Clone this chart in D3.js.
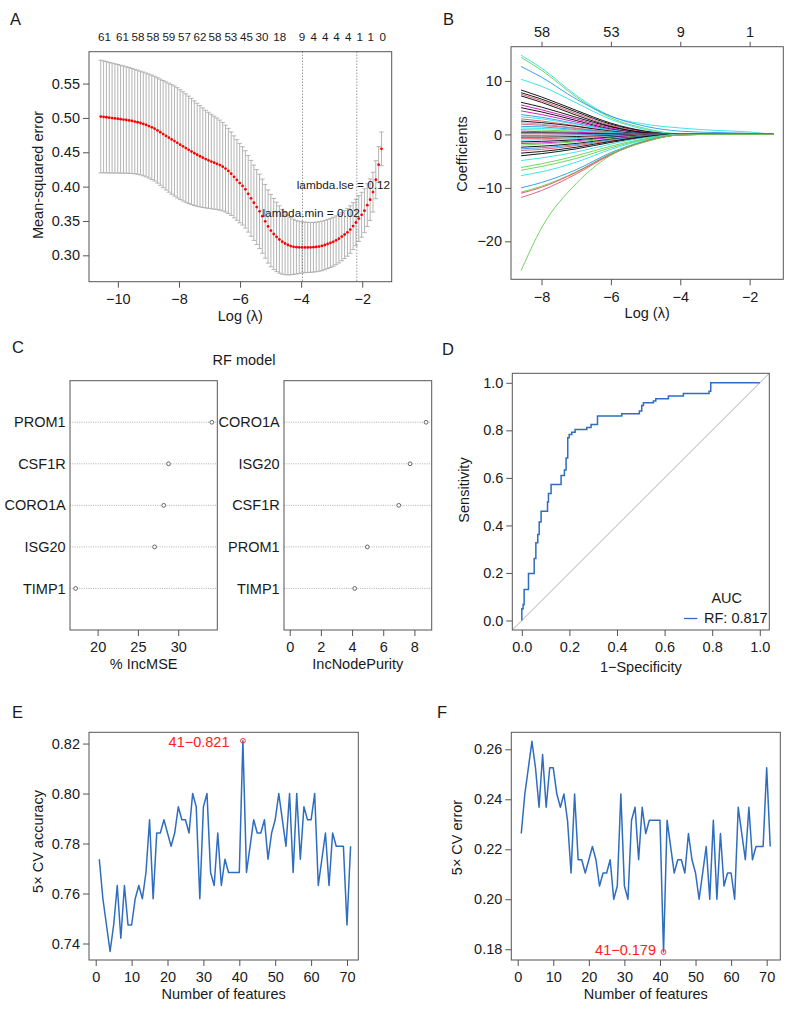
<!DOCTYPE html>
<html lang="en">
<head>
<meta charset="utf-8" />
<title>LASSO / random forest feature selection (D3.js)</title>
<script src="https://d3js.org/d3.v7.min.js"></script>
<style>
  body { margin: 0; background: #ffffff; }
  svg  { display: block; font-family: "Liberation Sans", Arial, Helvetica, sans-serif; }
  text { fill: #1a1a1a; }
  .frame { fill: none; stroke: #555; stroke-width: 1; }
</style>
</head>
<body>
<svg id="fig"></svg>
<script>
/* ---------------- data ---------------- */

// A: cross-validated MSE along the lambda path (100 lambdas, log scale)
const cvLogLambdaRange = [-10.56, -1.37];
const cvMean = [
  0.502, 0.5015, 0.501, 0.5003, 0.4998, 0.4993, 0.4988, 0.4982, 0.4976, 0.497,
  0.4963, 0.4956, 0.4947, 0.4937, 0.4926, 0.4913, 0.4898, 0.4882, 0.4863, 0.4843,
  0.4818, 0.4792, 0.4765, 0.4738, 0.4712, 0.4687, 0.4663, 0.4637, 0.4611, 0.4586,
  0.4561, 0.4536, 0.4511, 0.4487, 0.4464, 0.4442, 0.4421, 0.4401, 0.4383, 0.4365,
  0.4349, 0.4332, 0.4313, 0.429, 0.4262, 0.4228, 0.4188, 0.4142, 0.4097, 0.4052,
  0.401, 0.396, 0.3895, 0.383, 0.3765, 0.3703, 0.364, 0.357, 0.3495, 0.342,
  0.336, 0.331, 0.3268, 0.323, 0.3198, 0.3172, 0.315, 0.3134, 0.3124, 0.3118,
  0.3116, 0.3115, 0.3115, 0.3115, 0.3116, 0.3118, 0.3122, 0.3128, 0.3138, 0.315,
  0.3165, 0.318, 0.3197, 0.3218, 0.3243, 0.3273, 0.3303, 0.3335, 0.3375, 0.3425,
  0.3478, 0.3535, 0.359, 0.365, 0.373, 0.381, 0.392, 0.41, 0.432, 0.455
];
const cvSe = [
  0.082, 0.0815, 0.081, 0.0805, 0.08, 0.0795, 0.079, 0.0785, 0.078, 0.0775,
  0.077, 0.0765, 0.076, 0.0757, 0.0755, 0.0755, 0.0755, 0.0757, 0.076, 0.0762,
  0.0767, 0.0773, 0.078, 0.0787, 0.0793, 0.0798, 0.0802, 0.0803, 0.08, 0.0795,
  0.0789, 0.0782, 0.0773, 0.0762, 0.075, 0.0737, 0.0724, 0.0711, 0.0699, 0.0688,
  0.0677, 0.0666, 0.0655, 0.0644, 0.0632, 0.062, 0.0608, 0.0597, 0.0587, 0.0578,
  0.057, 0.0563, 0.0557, 0.0552, 0.0548, 0.0545, 0.0542, 0.054, 0.0537, 0.0533,
  0.0527, 0.0518, 0.0505, 0.049, 0.0472, 0.0453, 0.0434, 0.0417, 0.0402, 0.039,
  0.038, 0.0373, 0.0368, 0.0365, 0.0363, 0.0362, 0.0361, 0.036, 0.036, 0.0359,
  0.0358, 0.0357, 0.0356, 0.0355, 0.0354, 0.0352, 0.035, 0.0348, 0.0345, 0.0342,
  0.0338, 0.0333, 0.0327, 0.032, 0.0312, 0.0302, 0.029, 0.0277, 0.0262, 0.0245
];
const cvTopLabels = ["61","61","58","58","59","57","62","58","53","45","30","18","9","4","4","4","4","1","1","0"];
const cvTopAt = [-10.44,-9.85,-9.34,-8.85,-8.33,-7.82,-7.31,-6.82,-6.30,-5.79,-5.28,-4.70,-3.97,-3.59,-3.21,-2.84,-2.46,-2.08,-1.72,-1.33];
const cvLambdaLines = [-3.955, -2.178];
const cvLambdaText = ["lambda.min = 0.02", "lambda.lse = 0.12"];

// B: coefficient paths, values read at these log(lambda) knots
const coefKnots = [-8.59, -8, -7, -6, -5, -4, -3, -2, -1.32];
const coefPaths = [
  [14.8, 12.4, 7.3, 3.4, 1.9, 1.2, 0.75, 0.45, 0],
  [14.4, 12.0, 7.0, 3.1, 1.1, 0.1, 0, 0, 0],
  [12.7, 10.7, 6.6, 3.4, 1.5, 0.6, 0.35, 0.2, 0],
  [10.3, 9.0, 5.9, 2.8, 0.9, 0, 0, 0, 0],
  [8.3, 7.0, 4.5, 2.1, 0.6, 0, 0, 0, 0],
  [7.8, 6.6, 4.2, 1.9, 0.5, 0, 0, 0, 0],
  [7.5, 6.3, 3.9, 1.7, 0.4, 0, 0, 0, 0],
  [7.2, 6.0, 3.6, 1.5, 0.3, 0, 0, 0, 0],
  [6.0, 5.1, 3.2, 1.4, 0.3, 0, 0, 0, 0],
  [5.5, 4.6, 2.9, 1.2, 0.2, 0, 0, 0, 0],
  [5.0, 4.2, 2.6, 1.0, 0.2, 0, 0, 0, 0],
  [4.4, 3.7, 2.3, 0.9, 0.1, 0, 0, 0, 0],
  [3.7, 3.2, 2.0, 0.8, 0.1, 0, 0, 0, 0],
  [3.3, 2.9, 1.9, 0.8, 0.1, 0, 0, 0, 0],
  [2.9, 2.5, 1.6, 0.6, 0.05, 0, 0, 0, 0],
  [2.5, 2.2, 1.5, 0.6, 0.1, 0, 0, 0, 0],
  [2.2, 1.9, 1.2, 0.5, 0, 0, 0, 0, 0],
  [1.9, 1.7, 1.1, 0.4, 0, 0, 0, 0, 0],
  [1.5, 1.4, 0.9, 0.4, 0, 0, 0, 0, 0],
  [1.2, 1.1, 0.8, 0.3, 0, 0, 0, 0, 0],
  [0.9, 0.8, 0.6, 0.2, 0, 0, 0, 0, 0],
  [0.6, 0.5, 0.4, 0.15, 0, 0, 0, 0, 0],
  [0.3, 0.3, 0.2, 0.1, 0, 0, 0, 0, 0],
  [0.1, 0.1, 0.05, 0, 0, 0, 0, 0, 0],
  [-0.2, -0.2, -0.1, 0, 0, 0, 0, 0, 0],
  [-0.5, -0.5, -0.4, -0.2, 0, 0, 0, 0, 0],
  [-0.8, -0.8, -0.6, -0.3, 0, 0, 0, 0, 0],
  [-1.1, -1.0, -0.8, -0.4, -0.1, 0, 0, 0, 0],
  [-1.4, -1.3, -1.0, -0.5, -0.1, 0, 0, 0, 0],
  [-1.7, -1.6, -1.2, -0.6, -0.15, 0, 0, 0, 0],
  [-2.0, -1.8, -1.4, -0.8, -0.2, 0, 0, 0, 0],
  [-2.4, -2.2, -1.7, -0.9, -0.3, 0, 0, 0, 0],
  [-2.7, -2.5, -1.9, -1.0, -0.3, 0, 0, 0, 0],
  [-3.0, -2.8, -2.1, -1.2, -0.4, 0, 0, 0, 0],
  [-3.5, -3.2, -2.4, -1.3, -0.4, 0, 0, 0, 0],
  [-4.0, -3.6, -2.7, -1.5, -0.5, 0, 0, 0, 0],
  [-4.9, -4.4, -3.3, -1.8, -0.6, 0, 0, 0, 0],
  [-6.2, -5.5, -4.0, -2.2, -0.8, 0, 0, 0, 0],
  [-6.7, -6.0, -4.5, -2.5, -0.9, 0, 0, 0, 0],
  [-7.7, -7.0, -5.2, -2.8, -1.0, 0, 0, 0, 0],
  [-10.0, -9.0, -6.6, -3.4, -1.2, -0.1, 0, 0, 0],
  [-10.8, -9.7, -7.0, -3.6, -1.2, -0.1, 0, 0, 0],
  [-11.0, -9.9, -7.1, -3.7, -1.3, -0.1, 0, 0, 0],
  [-11.8, -10.5, -7.4, -3.8, -1.3, -0.1, 0, 0, 0],
  [-25.5, -17.5, -9.2, -3.9, -1.4, -0.1, 0, 0, 0]
];
const coefColors = ["#28E2E5","#61D04F","#2297E6","#28E2E5","#000000","#000000","#DF536B","#000000","#000000","#CD0BBC",
  "#000000","#CD0BBC","#2297E6","#28E2E5","#DF536B","#000000","#9E9E9E","#DF536B","#2297E6","#28E2E5",
  "#61D04F","#CD0BBC","#000000","#DF536B","#2297E6","#000000","#DF536B","#28E2E5","#000000","#CD0BBC",
  "#61D04F","#000000","#2297E6","#DF536B","#000000","#000000","#28E2E5","#61D04F","#61D04F","#28E2E5",
  "#2297E6","#61D04F","#DF536B","#DF536B","#61D04F"];
const coefTopTicks = [-8, -6, -4, -2];
const coefTopLabels = ["58", "53", "9", "1"];

// C: random forest variable importance
const rfGenesMSE = ["PROM1", "CSF1R", "CORO1A", "ISG20", "TIMP1"];
const rfIncMSE   = [34.17, 28.8, 28.2, 27.07, 17.27];
const rfGenesNP  = ["CORO1A", "ISG20", "CSF1R", "PROM1", "TIMP1"];
const rfIncNP    = [8.75, 7.72, 7.0, 4.98, 4.17];

// D: ROC curve vertices
const rocFpr = [0, 0, 0.0056, 0.0056, 0.0098, 0.0098, 0.028, 0.028, 0.052, 0.052,
  0.059, 0.059, 0.067, 0.067, 0.073, 0.073, 0.081, 0.081, 0.108, 0.108,
  0.112, 0.112, 0.123, 0.123, 0.165, 0.165, 0.179, 0.179, 0.186, 0.186,
  0.193, 0.193, 0.199, 0.199, 0.21, 0.21, 0.224, 0.224, 0.273, 0.273,
  0.291, 0.291, 0.318, 0.318, 0.42, 0.42, 0.494, 0.494, 0.504, 0.504,
  0.511, 0.511, 0.553, 0.553, 0.563, 0.563, 0.616, 0.616, 0.679, 0.679,
  0.787, 0.787, 0.794, 0.794, 1];
const rocTpr = [0, 0.049, 0.049, 0.067, 0.067, 0.13, 0.13, 0.198, 0.198, 0.261,
  0.261, 0.327, 0.327, 0.362, 0.362, 0.414, 0.414, 0.46, 0.46, 0.499,
  0.499, 0.534, 0.534, 0.572, 0.572, 0.61, 0.61, 0.633, 0.633, 0.684,
  0.684, 0.769, 0.769, 0.783, 0.783, 0.792, 0.792, 0.804, 0.804, 0.812,
  0.812, 0.825, 0.825, 0.86, 0.86, 0.87, 0.87, 0.881, 0.881, 0.905,
  0.905, 0.916, 0.916, 0.923, 0.923, 0.933, 0.933, 0.944, 0.944, 0.955,
  0.955, 0.965, 0.965, 1, 1];
const rocAuc = "RF: 0.817";

// E / F: 5-fold CV accuracy and error vs number of features (1..71)
const cvAccuracy = [0.7737,0.7579,0.7474,0.7368,0.7474,0.7632,0.7421,0.7632,0.7474,0.7474,
  0.7579,0.7632,0.7579,0.7684,0.7895,0.7579,0.7842,0.7842,0.7895,0.7842,
  0.7789,0.7842,0.7947,0.7895,0.7895,0.7842,0.8,0.7947,0.7579,0.7947,
  0.8,0.7684,0.7632,0.7842,0.7632,0.7737,0.7684,0.7684,0.7684,0.7684,
  0.8211,0.7684,0.7789,0.7895,0.7842,0.7842,0.7895,0.7737,0.7842,0.7895,
  0.8,0.7895,0.7789,0.8,0.7684,0.8,0.7737,0.7947,0.7895,0.7895,
  0.8,0.7632,0.7737,0.7842,0.7632,0.7842,0.7789,0.7789,0.7789,0.7474,
  0.7789];
const cvError = [0.2263,0.2421,0.2526,0.2632,0.2526,0.2368,0.2579,0.2368,0.2526,0.2526,
  0.2421,0.2368,0.2421,0.2316,0.2105,0.2421,0.2158,0.2158,0.2105,0.2158,
  0.2211,0.2158,0.2053,0.2105,0.2105,0.2158,0.2,0.2053,0.2421,0.2053,
  0.2,0.2316,0.2368,0.2158,0.2368,0.2263,0.2316,0.2316,0.2316,0.2316,
  0.1789,0.2316,0.2211,0.2105,0.2158,0.2158,0.2105,0.2263,0.2158,0.2105,
  0.2,0.2105,0.2211,0.2,0.2316,0.2,0.2263,0.2053,0.2105,0.2105,
  0.2,0.2368,0.2263,0.2158,0.2368,0.2158,0.2211,0.2211,0.2211,0.2526,
  0.2211];

/* ---------------- helpers ---------------- */
const svg = d3.select("#fig").attr("width", 799).attr("height", 1009);
const FS = 14.5, INK = "#1a1a1a", BLUE = "#2E6DBF";

function frame(x0, y0, x1, y1) {
  svg.append("rect").attr("class", "frame")
    .attr("x", x0).attr("y", y0).attr("width", x1 - x0).attr("height", y1 - y0);
}
function axis(gen, tx, ty) {
  const g = svg.append("g").attr("transform", `translate(${tx},${ty})`).call(gen);
  g.select(".domain").remove();
  g.selectAll(".tick line").attr("stroke", "#555");
  g.selectAll(".tick text").attr("font-size", FS)
    .attr("font-family", '"Liberation Sans", Arial, Helvetica, sans-serif').attr("fill", INK);
  return g;
}
function text(x, y, s, opt = {}) {
  const t = svg.append("text").attr("x", x).attr("y", y).text(s)
    .attr("font-size", opt.size || FS).attr("text-anchor", opt.anchor || "start");
  if (opt.fill) t.style("fill", opt.fill);
  if (opt.rotate) t.attr("transform", `rotate(-90,${x},${y})`);
  return t;
}
const bottom = (s, v, f) => d3.axisBottom(s).tickValues(v).tickFormat(f).tickSize(6).tickPadding(6);
const left   = (s, v, f) => d3.axisLeft(s).tickValues(v).tickFormat(f).tickSize(6).tickPadding(3);

/* ---------------- A ---------------- */
{
  const X0 = 89, X1 = 391.7, Y0 = 51.7, Y1 = 281.7;
  const x = d3.scaleLinear().domain([-10.945, -1.035]).range([X0, X1]);
  const y = d3.scaleLinear().domain([0.2616, 0.5964]).range([Y1, Y0]);
  const lam = d3.scaleLinear().domain([0, cvMean.length - 1]).range(cvLogLambdaRange);
  const pts = cvMean.map((m, i) => ({ l: lam(i), m, lo: m - cvSe[i], hi: m + cvSe[i] }));

  const bars = svg.append("g").attr("stroke", "#ababab").attr("stroke-width", 0.9).attr("fill", "none");
  bars.selectAll("path").data(pts).join("path")
    .attr("d", d => {
      const px = x(d.l), a = y(d.hi), b = y(d.lo), c = 2.2;
      return `M${px},${a}V${b}M${px - c},${a}H${px + c}M${px - c},${b}H${px + c}`;
    });
  svg.append("g").selectAll("circle").data(pts).join("circle")
    .attr("cx", d => x(d.l)).attr("cy", d => y(d.m)).attr("r", 1.4).attr("fill", "#ff0000");

  svg.append("g").selectAll("line").data(cvLambdaLines).join("line")
    .attr("x1", d => x(d)).attr("x2", d => x(d)).attr("y1", Y0).attr("y2", Y1)
    .attr("stroke", "#444").attr("stroke-width", 0.8).attr("stroke-dasharray", "1,2");
  text(x(cvLambdaLines[0]) - 40, 216.7, cvLambdaText[0], { size: 11.8 });
  text(X1 - 1.5, 189.3, cvLambdaText[1], { size: 11.8, anchor: "end" });

  frame(X0, Y0, X1, Y1);
  axis(bottom(x, [-10, -8, -6, -4, -2], d3.format("d")), 0, Y1);
  axis(left(y, [0.30, 0.35, 0.40, 0.45, 0.50, 0.55], d3.format(".2f")), X0, 0);
  svg.append("g").selectAll("text").data(cvTopLabels).join("text")
    .attr("x", (d, i) => x(cvTopAt[i])).attr("y", 40.5).attr("text-anchor", "middle")
    .attr("font-size", 11.6).text(d => d);
  text((X0 + X1) / 2, 320.5, "Log (λ)", { anchor: "middle" });
  text(42.5, 175, "Mean-squared error", { anchor: "middle", rotate: true });
  text(10, 25, "A", { size: 16.5 });
}

/* ---------------- B ---------------- */
{
  const X0 = 511, X1 = 783.3, Y0 = 46.7, Y1 = 279.3;
  const x = d3.scaleLinear().domain([-8.88, -1.03]).range([X0, X1]);
  const y = d3.scaleLinear().domain([-27.1, 16.4]).range([Y1, Y0]);
  const line = d3.line().x((d, i) => x(coefKnots[i])).y(d => y(d)).curve(d3.curveMonotoneX);
  svg.append("g").attr("fill", "none").attr("stroke-width", 0.9)
    .selectAll("path").data(coefPaths).join("path")
    .attr("stroke", (d, i) => coefColors[i]).attr("d", line);

  frame(X0, Y0, X1, Y1);
  axis(bottom(x, [-8, -6, -4, -2], d3.format("d")), 0, Y1);
  axis(left(y, [-20, -10, 0, 10], d3.format("d")), X0, 0);
  axis(d3.axisTop(x).tickValues(coefTopTicks).tickFormat((d, i) => coefTopLabels[i]).tickSize(5).tickPadding(5), 0, Y0);
  text((X0 + X1) / 2, 318, "Log (λ)", { anchor: "middle" });
  text(466.5, 154, "Coefficients", { anchor: "middle", rotate: true });
  text(443, 25, "B", { size: 16.5 });
}

/* ---------------- C ---------------- */
{
  const Y0 = 380.7, Y1 = 630;
  const y = d3.scaleLinear().domain([0, 6]).range([Y1, Y0]);
  const boxes = [
    { X0: 70, X1: 217.3, dom: [16.57, 34.85], genes: rfGenesMSE, vals: rfIncMSE, ticks: [20, 25, 30], title: "% IncMSE" },
    { X0: 284, X1: 431.7, dom: [-0.366, 9.11], genes: rfGenesNP, vals: rfIncNP, ticks: [0, 2, 4, 6, 8], title: "IncNodePurity" }
  ];
  boxes.forEach(b => {
    const x = d3.scaleLinear().domain(b.dom).range([b.X0, b.X1]);
    const rowY = (d, i) => y(b.genes.length - i);
    svg.append("g").selectAll("line").data(b.vals).join("line")
      .attr("x1", b.X0).attr("x2", b.X1).attr("y1", rowY).attr("y2", rowY)
      .attr("stroke", "#9a9a9a").attr("stroke-width", 0.8).attr("stroke-dasharray", "1,1.3");
    svg.append("g").selectAll("circle").data(b.vals).join("circle")
      .attr("cx", d => x(d)).attr("cy", rowY).attr("r", 1.9)
      .attr("fill", "#fff").attr("stroke", "#444").attr("stroke-width", 0.8);
    svg.append("g").selectAll("text").data(b.genes).join("text")
      .attr("x", b.X0 - 4.3).attr("y", rowY).attr("dy", "0.35em")
      .attr("text-anchor", "end").attr("font-size", FS).text(d => d);
    frame(b.X0, Y0, b.X1, Y1);
    axis(bottom(x, b.ticks, d3.format("d")), 0, Y1);
    text((b.X0 + b.X1) / 2, 669, b.title, { anchor: "middle" });
  });
  text(244, 364.5, "RF model", { anchor: "middle" });
  text(12, 353, "C", { size: 16.5 });
}

/* ---------------- D ---------------- */
{
  const X0 = 512.3, X1 = 769.3, Y0 = 373.3, Y1 = 630;
  const x = d3.scaleLinear().domain([-0.04, 1.04]).range([X0, X1]);
  const y = d3.scaleLinear().domain([-0.04, 1.04]).range([Y1, Y0]);
  svg.append("line").attr("x1", x(-0.04)).attr("y1", y(-0.04)).attr("x2", x(1.04)).attr("y2", y(1.04))
    .attr("stroke", "#9a9a9a").attr("stroke-width", 0.8);
  svg.append("path").datum(rocFpr)
    .attr("fill", "none").attr("stroke", BLUE).attr("stroke-width", 1.5)
    .attr("d", d3.line().x(d => x(d)).y((d, i) => y(rocTpr[i])));
  frame(X0, Y0, X1, Y1);
  const t = [0, 0.2, 0.4, 0.6, 0.8, 1.0];
  axis(bottom(x, t, d3.format(".1f")), 0, Y1);
  axis(left(y, t, d3.format(".1f")), X0, 0);
  text(726.7, 603, "AUC", { anchor: "middle" });
  svg.append("line").attr("x1", 684).attr("x2", 697.3).attr("y1", 618.5).attr("y2", 618.5)
    .attr("stroke", BLUE).attr("stroke-width", 1.3);
  text(704, 623.3, rocAuc);
  text((X0 + X1) / 2, 672, "1−Specificity", { anchor: "middle" });
  text(469, 490, "Sensitivity", { anchor: "middle", rotate: true });
  text(442, 355, "D", { size: 16.5 });
}

/* ---------------- E / F ---------------- */
function cvPanel(o) {
  const x = d3.scaleLinear().domain(o.xdom).range([o.X0, o.X1]);
  const y = d3.scaleLinear().domain(o.ydom).range([o.Y1, o.Y0]);
  svg.append("path").datum(o.vals)
    .attr("fill", "none").attr("stroke", BLUE).attr("stroke-width", 1.5).attr("stroke-linejoin", "round")
    .attr("d", d3.line().x((d, i) => x(i + 1)).y(d => y(d)));
  const bi = o.pick(o.vals);
  svg.append("circle").attr("cx", x(bi + 1)).attr("cy", y(o.vals[bi])).attr("r", 2.4)
    .attr("fill", "none").attr("stroke", "#ff2020").attr("stroke-width", 0.9);
  text(o.labX, o.labY, `${bi + 1}−${o.vals[bi].toFixed(3)}`, { anchor: "end", fill: "#ff2020" });
  frame(o.X0, o.Y0, o.X1, o.Y1);
  axis(bottom(x, d3.range(0, 71, 10), d3.format("d")), 0, o.Y1);
  axis(left(y, o.yt, d3.format(".2f")), o.X0, 0);
  text((o.X0 + o.X1) / 2, o.Y1 + 39, "Number of features", { anchor: "middle" });
  text(o.ylx, o.yly, o.ylab, { anchor: "middle", rotate: true });
  text(o.tagX, 718, o.tag, { size: 16.5 });
}
cvPanel({ vals: cvAccuracy, pick: v => d3.maxIndex(v), X0: 89, X1: 358.3, Y0: 732.3, Y1: 960,
  xdom: [-1.87, 73.15], ydom: [0.7334, 0.8245], yt: [0.74, 0.76, 0.78, 0.80, 0.82],
  labX: 229.5, labY: 746.5, ylab: "5× CV accuracy", ylx: 43, yly: 841.5, tag: "E", tagX: 12 });
cvPanel({ vals: cvError, pick: v => d3.minIndex(v), X0: 511.3, X1: 780.3, Y0: 732.3, Y1: 960,
  xdom: [-1.8, 73.83], ydom: [0.1757, 0.2668], yt: [0.18, 0.20, 0.22, 0.24, 0.26],
  labX: 656, labY: 955, ylab: "5× CV error", ylx: 462, yly: 837.5, tag: "F", tagX: 437 });
</script>
</body>
</html>
